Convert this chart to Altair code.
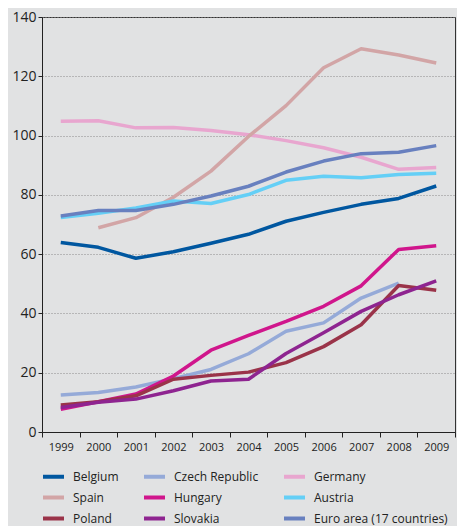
import altair as alt
import pandas as pd

years = ["1999", "2000", "2001", "2002", "2003", "2004", "2005", "2006", "2007", "2008", "2009"]

belgium = [63.9, 62.3, 58.6, 60.8, 63.7, 66.7, 71.1, 74.1, 76.8, 78.8, 83.0]
czech = [12.5, 13.3, 15.2, 18.0, 21.1, 26.4, 34.0, 36.8, 45.2, 50.2, None]
germany = [104.8, 105.0, 102.6, 102.7, 101.7, 100.3, 98.3, 95.9, 92.7, 88.6, 89.2]
spain = [None, 68.9, 72.3, 79.2, 88.0, 99.7, 110.1, 122.9, 129.3, 127.2, 124.5]
hungary = [7.7, 10.2, 12.8, 18.9, 27.6, 32.6, 37.3, 42.4, 49.3, 61.6, 62.8]
austria = [72.4, 73.8, 75.6, 77.9, 77.1, 80.1, 84.9, 86.3, 85.8, 86.9, 87.3]
poland = [9.1, 10.2, 12.2, 17.8, 19.1, 20.2, 23.4, 28.8, 36.2, 49.4, 47.8]
slovakia = [8.3, 10.0, 11.1, 13.9, 17.2, 17.8, 26.5, 33.5, 40.7, 46.3, 51.0]
euro_area = [72.9, 74.7, 74.7, 76.8, 79.6, 82.9, 87.7, 91.4, 93.9, 94.4, 96.6]

series_names = ["Belgium", "Czech Republic", "Germany",
                "Spain", "Hungary", "Austria",
                "Poland", "Slovakia", "Euro area (17 countries)"]
series_values = [belgium, czech, germany, spain, hungary, austria, poland, slovakia, euro_area]
series_colors = ["#0057a0", "#95aad8", "#e8a6cf",
                 "#d2a5a6", "#d0168c", "#64cff6",
                 "#9a3349", "#8e2490", "#6880bf"]

rows = []
for name, vals in zip(series_names, series_values):
    for y, v in zip(years, vals):
        if v is not None:
            rows.append({"year": y, "value": v, "country": name})
df = pd.DataFrame(rows)

FONT = "Open Sans"

chart = alt.Chart(df).mark_line(strokeWidth=3.5, strokeCap="butt", strokeJoin="round").encode(
    x=alt.X("year:O",
            scale=alt.Scale(type="band", domain=years, paddingInner=0, paddingOuter=0),
            axis=alt.Axis(title=None, tickBand="extent", labelAngle=0, labelFontSize=11,
                          labelFont=FONT, labelColor="#222", tickColor="#222", tickSize=5,
                          labelPadding=4, domainColor="#222", grid=False)),
    y=alt.Y("value:Q",
            scale=alt.Scale(domain=[0, 140], nice=False),
            axis=alt.Axis(title=None, values=[0, 20, 40, 60, 80, 100, 120, 140],
                          labelFontSize=14, labelFont=FONT, labelColor="#222",
                          tickColor="#222", tickSize=4, labelPadding=2,
                          domainColor="#222", grid=True, gridColor="#8a8a8a",
                          gridDash=[1, 2], gridWidth=1)),
    color=alt.Color("country:N",
                    scale=alt.Scale(domain=series_names, range=series_colors),
                    legend=alt.Legend(title=None, orient="none", legendX=-1, legendY=447,
                                      columns=3, symbolType="stroke", symbolSize=441,
                                      symbolStrokeWidth=4, labelFont=FONT, labelFontSize=12,
                                      labelColor="#222", labelOffset=7, columnPadding=17,
                                      rowPadding=0, direction="horizontal")),
    order=alt.Order("country:N"),
).properties(
    width=413,
    height=415,
    background="#e1e2e3",
    padding={"left": 34, "top": 9, "right": 2, "bottom": 94},
    autosize=alt.AutoSizeParams(type="none"),
).configure_view(
    stroke="#333", strokeWidth=1
)

chart.save("out.html", embed_options={"renderer": "svg", "actions": False})
